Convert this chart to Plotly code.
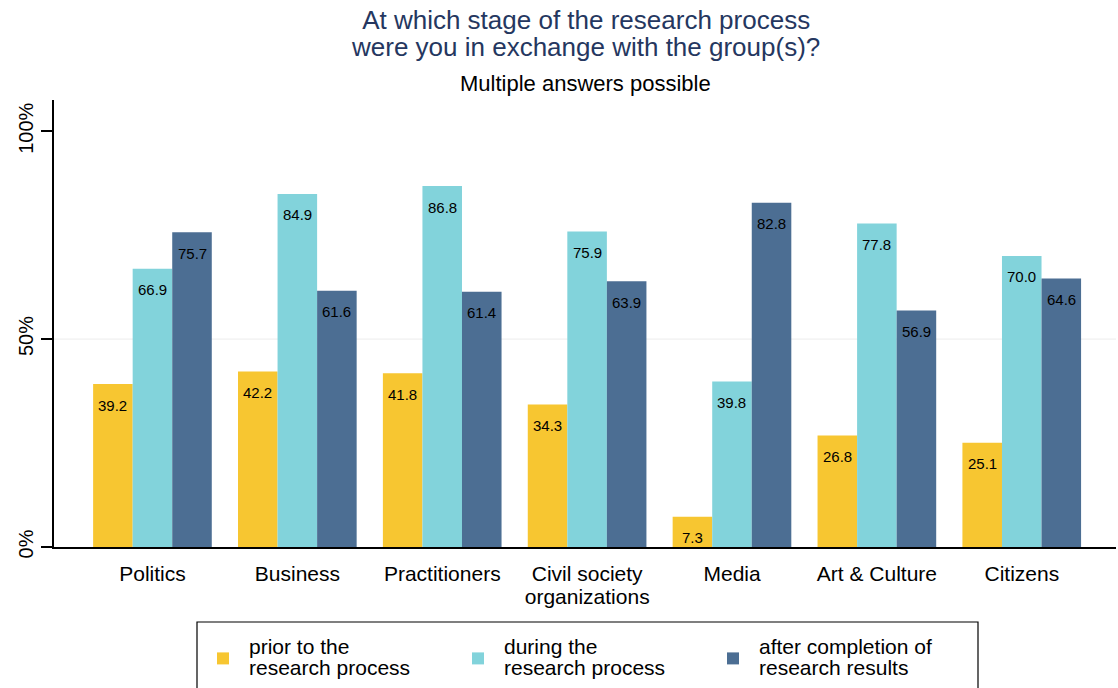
import plotly.graph_objects as go

categories = ["Politics", "Business", "Practitioners", "Civil society<br>organizations",
              "Media", "Art & Culture", "Citizens"]
prior = [39.2, 42.2, 41.8, 34.3, 7.3, 26.8, 25.1]
during = [66.9, 84.9, 86.8, 75.9, 39.8, 77.8, 70.0]
after = [75.7, 61.6, 61.4, 63.9, 82.8, 56.9, 64.6]

series_names = ["prior to the<br>research process",
                "during the<br>research process",
                "after completion of<br>research results"]
colors = ["#F7C631", "#82D3DB", "#4C6E93"]

FONT = "Liberation Sans, Arial, sans-serif"

BAR_W = 0.273          # width of one bar in category units
GROUP_LEFT = -0.41     # left edge of the first bar relative to the category centre
PLOT_W, PLOT_H = 1062, 447


def tight(text, px):
    """Render each line at `px` while the line spacing follows the smaller base font."""
    return "<br>".join(f"<span style='font-size:{px}px'>{line}</span>"
                       for line in text.split("<br>"))


fig = go.Figure()
annotations = []
for i, (name, vals, col) in enumerate(zip(series_names, [prior, during, after], colors)):
    off = GROUP_LEFT + i * BAR_W
    fig.add_trace(go.Bar(
        x=categories, y=vals, name=tight(name, 21),
        width=BAR_W, offset=off,
        marker=dict(color=col, line=dict(width=0)),
    ))
    # value labels just inside the top of each bar
    for k, v in enumerate(vals):
        annotations.append(dict(
            x=k + off + BAR_W / 2, y=v, xref="x", yref="y",
            text=f"{v:.1f}", showarrow=False,
            xanchor="center", yanchor="middle", yshift=-21,
            font=dict(size=15, color="black", family=FONT),
        ))

annotations.append(dict(
    text=tight("At which stage of the research process<br>were you in exchange with the group(s)?", 26),
    xref="paper", yref="paper", x=0.5, y=1 + 97 / PLOT_H,
    xanchor="center", yanchor="top", showarrow=False,
    font=dict(size=21, color="#253760", family=FONT),
))
annotations.append(dict(
    text="Multiple answers possible", xref="paper", yref="paper",
    x=0.5, y=1.0 + 17 / PLOT_H, xanchor="center", yanchor="middle",
    showarrow=False, font=dict(size=22, color="black", family=FONT),
))

# faint reference line at 50 %
fig.add_shape(type="line", xref="paper", yref="y", x0=0, x1=1, y0=50, y1=50,
              line=dict(color="#ececec", width=1), layer="below")
# frame around the legend, running off the bottom of the page
fig.add_shape(type="rect", xref="paper", yref="paper",
              x0=(197 - 54) / PLOT_W, x1=(978 - 54) / PLOT_W,
              y0=-75 / PLOT_H, y1=-160 / PLOT_H,
              line=dict(color="black", width=1.2), fillcolor="rgba(0,0,0,0)")

fig.update_layout(
    width=1118, height=688,
    barmode="overlay",
    plot_bgcolor="white", paper_bgcolor="white",
    margin=dict(l=54, r=2, t=100, b=141),
    font=dict(family=FONT, color="black"),
    annotations=annotations,
    xaxis=dict(
        range=[-0.68, 6.65], showline=True, linecolor="black", linewidth=2,
        ticks="", showgrid=False, zeroline=False,
        tickmode="array", tickvals=categories,
        ticktext=[tight(c, 21) for c in categories],
        tickfont=dict(size=17, color="black"), ticklabelstandoff=12,
    ),
    yaxis=dict(
        range=[0, 107.5], tickvals=[0, 50, 100], ticktext=["0%", "50%", "100%"],
        tickangle=-90, showline=True, linecolor="black", linewidth=2,
        ticks="outside", ticklen=11, tickwidth=2, tickcolor="black",
        showgrid=False, zeroline=False, tickfont=dict(size=20, color="black"),
    ),
    legend=dict(
        orientation="h", x=(197 - 54) / PLOT_W, y=-75 / PLOT_H,
        xanchor="left", yanchor="top",
        borderwidth=0, bgcolor="rgba(0,0,0,0)",
        font=dict(size=16, color="black", family=FONT),
        title=dict(text="&nbsp;", side="top", font=dict(size=7)),
        entrywidth=198, entrywidthmode="pixels",
        itemwidth=42, traceorder="normal",
    ),
)

fig.write_html("out.html")
